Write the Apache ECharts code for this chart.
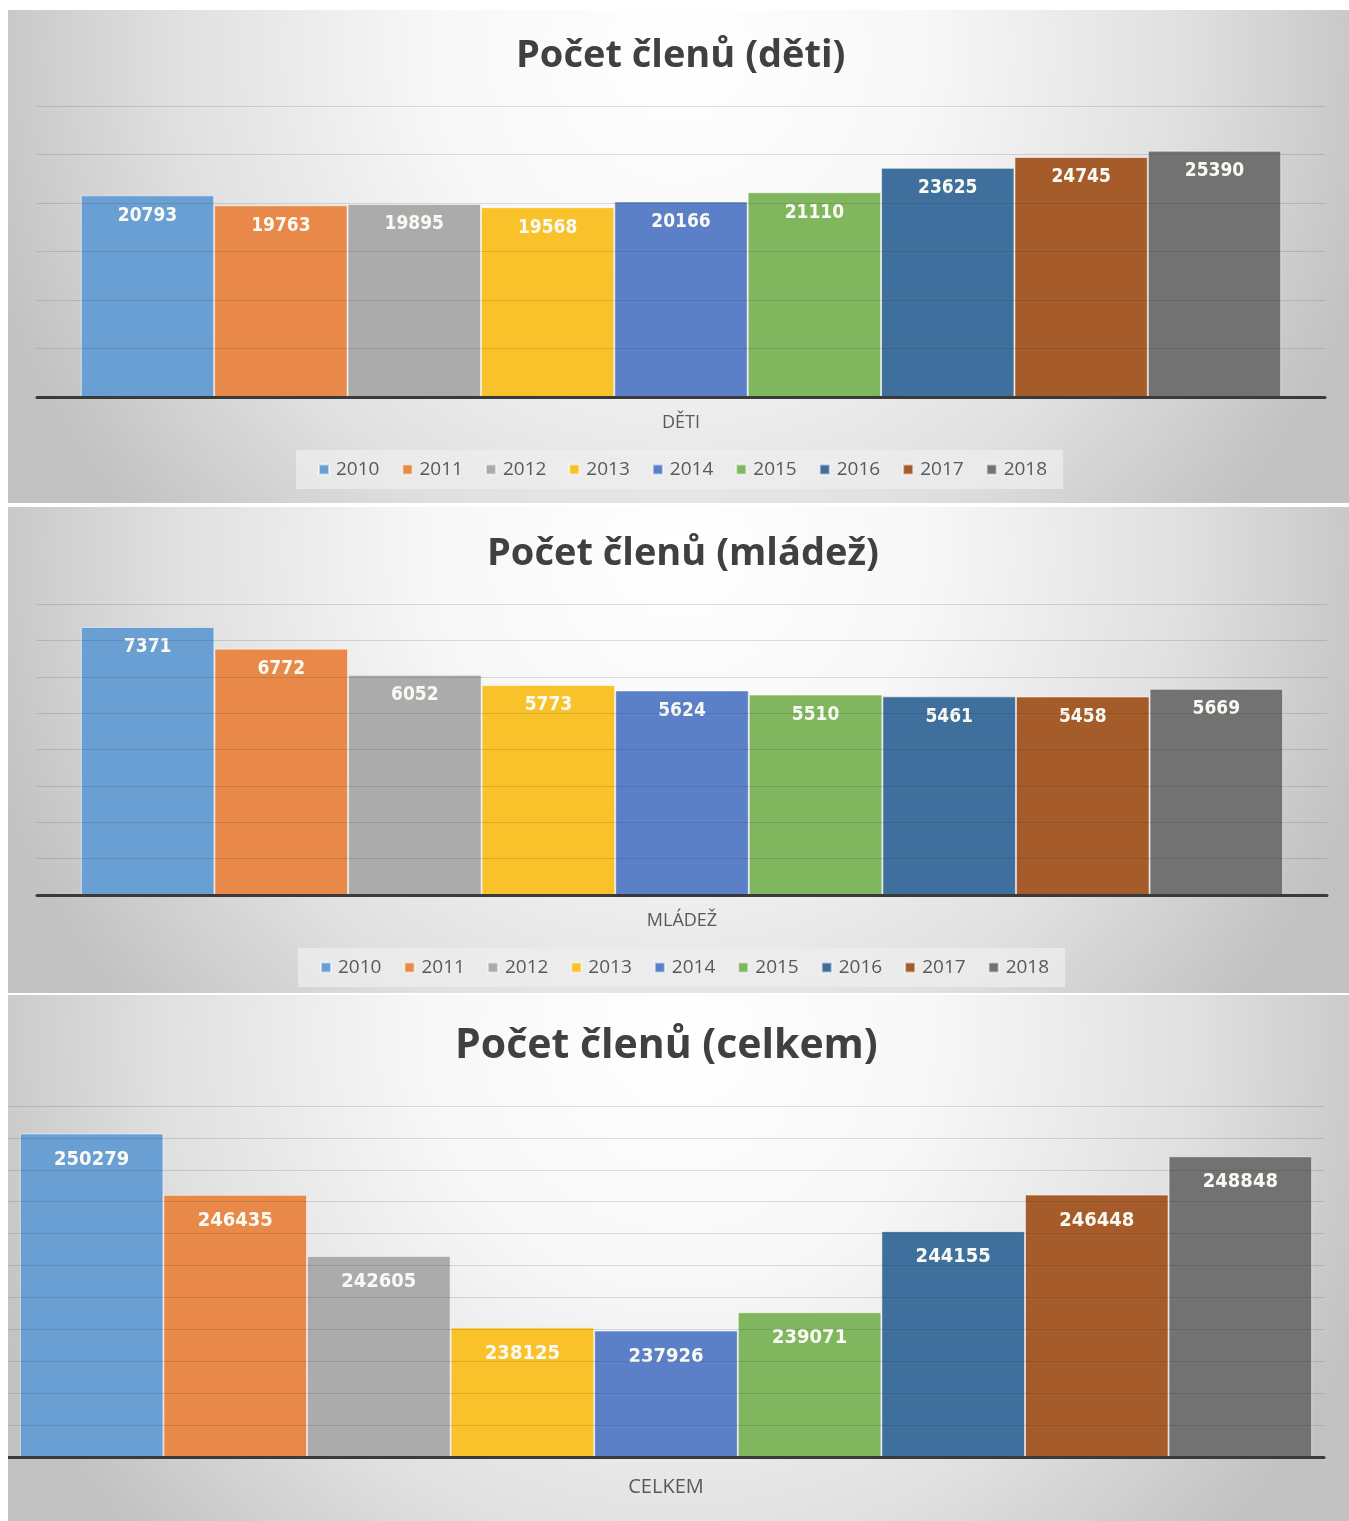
<!DOCTYPE html>
<html>
<head>
<meta charset="utf-8">
<script src="https://cdn.jsdelivr.net/npm/echarts@6/dist/echarts.min.js"></script>
<style>
html,body{margin:0;padding:0;background:#ffffff;}
#wrap{position:relative;width:1349px;height:1521px;overflow:hidden;}
.panel{position:absolute;left:8px;width:1341px;}
</style>
</head>
<body>
<div id="wrap">
  <div id="c1" class="panel" style="top:10px;height:493px;"></div>
  <div id="c2" class="panel" style="top:507px;height:486px;"></div>
  <div id="c3" class="panel" style="top:995px;height:526px;"></div>
</div>
<script>
// ---- data ----
const years = ['2010','2011','2012','2013','2014','2015','2016','2017','2018'];
const detiValues = [20793, 19763, 19895, 19568, 20166, 21110, 23625, 24745, 25390];
const mladezValues = [7371, 6772, 6052, 5773, 5624, 5510, 5461, 5458, 5669];
const celkemValues = [250279, 246435, 242605, 238125, 237926, 239071, 244155, 246448, 248848];
const detiTitle = 'Počet členů (děti)';
const mladezTitle = 'Počet členů (mládež)';
const celkemTitle = 'Počet členů (celkem)';
const detiCategory = ['DĚTI'];
const mladezCategory = ['MLÁDEŽ'];
const celkemCategory = ['CELKEM'];

// ---- styles ----
const palette = ['#6a9fd4','#e8894a','#ababab','#f9c22a','#5b80c8','#80b65e','#3f709d','#a65c2a','#727272'];
const narrow = "'Liberation Sans Narrow','DejaVu Sans Condensed',sans-serif";
const sans = "'Open Sans','Noto Sans',sans-serif";

function bg(w, h, cx, cy, r) {
  return {
    type: 'radial', x: cx, y: cy, r: r, global: true,
    colorStops: [
      {offset: 0, color: '#ffffff'},
      {offset: 0.35, color: '#f7f7f7'},
      {offset: 0.7, color: '#e0e0e0'},
      {offset: 1, color: '#c2c2c2'}
    ]
  };
}

function build(cfg) {
  const series = years.map((y, i) => ({
    type: 'bar',
    name: y,
    data: [cfg.values[i]],
    barGap: '0%',
    barCategoryGap: cfg.catGap,
    itemStyle: {color: palette[i], borderColor: 'rgba(255,255,255,0.55)', borderWidth: 1},
    label: {
      show: true, position: 'insideTop', distance: cfg.labelDist,
      color: '#fafaf4', fontFamily: narrow, fontWeight: 'bold', fontSize: cfg.labelSize
    },
    z: 2
  }));
  const opt = {
    animation: false,
    backgroundColor: bg(cfg.w, cfg.h, cfg.w / 2, cfg.bgY, cfg.bgR),
    title: {
      text: cfg.title, left: cfg.titleLeft, top: cfg.titleTop,
      textStyle: {fontFamily: sans, fontWeight: 'bold', fontSize: cfg.titleSize, color: '#404040'}
    },
    grid: {left: cfg.gridLeft, width: cfg.gridWidth, top: cfg.gridTop, height: cfg.gridHeight, containLabel: false},
    xAxis: {
      type: 'category', data: cfg.category,
      axisLine: {show: true, lineStyle: {color: '#3a3a3a', width: 3}},
      axisTick: {show: false},
      axisLabel: {show: true, margin: cfg.catMargin, fontFamily: sans, fontSize: cfg.catSize, color: '#595959'},
      z: 4
    },
    yAxis: {
      type: 'value', min: cfg.min, max: cfg.max, interval: cfg.interval,
      axisLine: {show: false}, axisTick: {show: false}, axisLabel: {show: false},
      splitLine: {show: true, lineStyle: {color: 'rgba(40,40,40,0.15)', width: 1}},
      z: 3
    },
    series: series
  };
  if (cfg.legend) {
    opt.legend = {
      data: years, left: cfg.legendLeft, top: cfg.legendTop,
      icon: 'rect', itemWidth: 10, itemHeight: 10, itemGap: 22,
      padding: [10, 16, 10, 22],
      backgroundColor: 'rgba(238,238,238,0.75)',
      textStyle: {fontFamily: sans, fontSize: 19, color: '#595959', padding: [0, 0, 0, 2]}
    };
  }
  return opt;
}

const c1 = echarts.init(document.getElementById('c1'));
c1.setOption(build({
  w: 1341, h: 493, bgY: 40, bgR: 720,
  title: detiTitle, titleLeft: 503, titleTop: 22, titleSize: 38,
  values: detiValues, category: detiCategory,
  gridLeft: 29, gridWidth: 1288, gridTop: 96, gridHeight: 291,
  min: 0, max: 30000, interval: 5000,
  catGap: '6.8%', labelDist: 11, labelSize: 19,
  catMargin: 17, catSize: 18,
  legend: true, legendLeft: 288, legendTop: 440
}));

const c2 = echarts.init(document.getElementById('c2'));
c2.setOption(build({
  w: 1341, h: 486, bgY: 40, bgR: 720,
  title: mladezTitle, titleLeft: 474, titleTop: 23, titleSize: 38,
  values: mladezValues, category: mladezCategory,
  gridLeft: 29, gridWidth: 1290, gridTop: 97, gridHeight: 291,
  min: 0, max: 8000, interval: 1000,
  catGap: '6.8%', labelDist: 11, labelSize: 19,
  catMargin: 17, catSize: 18,
  legend: true, legendLeft: 290, legendTop: 441
}));

const c3 = echarts.init(document.getElementById('c3'));
c3.setOption(build({
  w: 1341, h: 526, bgY: 40, bgR: 740,
  title: celkemTitle, titleLeft: 442, titleTop: 26, titleSize: 41,
  values: celkemValues, category: celkemCategory,
  gridLeft: 0, gridWidth: 1316, gridTop: 111, gridHeight: 351,
  min: 230000, max: 252000, interval: 2000,
  catGap: '1.8%', labelDist: 16, labelSize: 20,
  catMargin: 20, catSize: 20,
  legend: false
}));
</script>
</body>
</html>
